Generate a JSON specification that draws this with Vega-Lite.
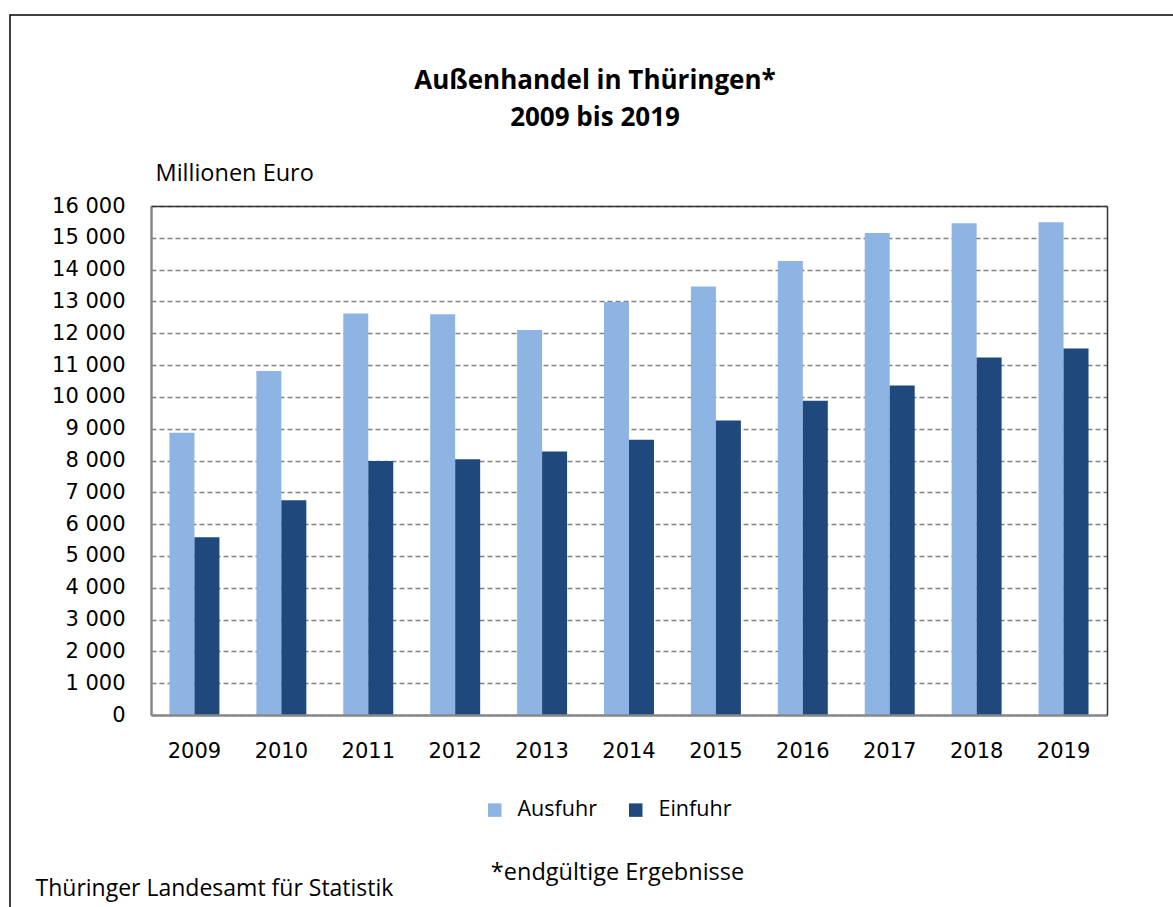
{
  "$schema": "https://vega.github.io/schema/vega-lite/v6.json",
  "width": 1170,
  "height": 900,
  "padding": {"left": 10, "top": 15, "right": 0, "bottom": 0},
  "autosize": {"type": "pad"},
  "background": "white",
  "config": {
    "view": {"stroke": "black", "strokeWidth": 1.5},
    "font": "Open Sans"
  },
  "title": {
    "text": ["Außenhandel in Thüringen*", "2009 bis 2019"],
    "font": "Open Sans",
    "fontSize": 26,
    "fontWeight": "bold",
    "color": "black",
    "anchor": "middle",
    "frame": "group",
    "offset": -116,
    "lineHeight": 37
  },
  "data": {
    "values": [
      {"year": "2009", "type": "Ausfuhr", "value": 8870},
      {"year": "2009", "type": "Einfuhr", "value": 5590},
      {"year": "2010", "type": "Ausfuhr", "value": 10810},
      {"year": "2010", "type": "Einfuhr", "value": 6750},
      {"year": "2011", "type": "Ausfuhr", "value": 12620},
      {"year": "2011", "type": "Einfuhr", "value": 7985},
      {"year": "2012", "type": "Ausfuhr", "value": 12600},
      {"year": "2012", "type": "Einfuhr", "value": 8040},
      {"year": "2013", "type": "Ausfuhr", "value": 12100},
      {"year": "2013", "type": "Einfuhr", "value": 8280},
      {"year": "2014", "type": "Ausfuhr", "value": 12980},
      {"year": "2014", "type": "Einfuhr", "value": 8650},
      {"year": "2015", "type": "Ausfuhr", "value": 13470},
      {"year": "2015", "type": "Einfuhr", "value": 9260},
      {"year": "2016", "type": "Ausfuhr", "value": 14270},
      {"year": "2016", "type": "Einfuhr", "value": 9880},
      {"year": "2017", "type": "Ausfuhr", "value": 15150},
      {"year": "2017", "type": "Einfuhr", "value": 10360},
      {"year": "2018", "type": "Ausfuhr", "value": 15460},
      {"year": "2018", "type": "Einfuhr", "value": 11240},
      {"year": "2019", "type": "Ausfuhr", "value": 15490},
      {"year": "2019", "type": "Einfuhr", "value": 11520}
    ]
  },
  "layer": [
    {
      "mark": {"type": "bar"},
      "encoding": {
        "x": {
          "field": "year",
          "type": "nominal",
          "scale": {"range": [141, 1097], "paddingInner": 0.425, "paddingOuter": 0.2125},
          "axis": {
            "orient": "bottom",
            "offset": -200,
            "zindex": 1,
            "grid": false,
            "ticks": false,
            "tickSize": 0,
            "domainColor": "#888888",
            "domainWidth": 2.5,
            "labelAngle": 0,
            "labelPadding": 25,
            "labelFont": "DejaVu Sans",
            "labelFontSize": 21,
            "labelColor": "black",
            "title": "*endgültige Ergebnisse",
            "titleFont": "Open Sans",
            "titleFontSize": 23.5,
            "titleFontWeight": "normal",
            "titleColor": "black",
            "titleX": 607,
            "titleY": 164,
            "titleAlign": "center",
            "titleBaseline": "alphabetic"
          }
        },
        "xOffset": {"field": "type", "type": "nominal", "sort": ["Ausfuhr", "Einfuhr"]},
        "y": {
          "field": "value",
          "type": "quantitative",
          "scale": {"domain": [0, 16000], "range": [700, 191], "nice": false, "zero": true},
          "axis": {
            "orient": "left",
            "offset": -141,
            "values": [0, 1000, 2000, 3000, 4000, 5000, 6000, 7000, 8000, 9000, 10000, 11000, 12000, 13000, 14000, 15000, 16000],
            "labelExpr": "replace(format(datum.value, ',d'), ',', ' ')",
            "labelFlush": false,
            "labelOverlap": false,
            "ticks": false,
            "tickSize": 0,
            "labelPadding": 26,
            "labelFont": "DejaVu Sans",
            "labelFontSize": 21,
            "labelColor": "black",
            "domainColor": "#888888",
            "domainWidth": 2.5,
            "grid": true,
            "gridColor": "#808080",
            "gridDash": [5, 3],
            "gridWidth": 1.4,
            "title": "Millionen Euro",
            "titleAngle": 0,
            "titleAlign": "left",
            "titleBaseline": "alphabetic",
            "titleX": 4,
            "titleY": 165,
            "titleFont": "Open Sans",
            "titleFontSize": 23.5,
            "titleFontWeight": "normal",
            "titleColor": "black"
          }
        },
        "color": {
          "field": "type",
          "type": "nominal",
          "scale": {"domain": ["Ausfuhr", "Einfuhr"], "range": ["#8DB4E2", "#1F497D"]},
          "legend": {
            "title": null,
            "orient": "none",
            "legendX": 474,
            "legendY": 784,
            "direction": "horizontal",
            "symbolType": "square",
            "symbolSize": 182,
            "symbolStrokeWidth": 0,
            "symbolOpacity": 1,
            "labelFont": "Open Sans",
            "labelFontSize": 21.5,
            "labelColor": "black",
            "labelOffset": 12,
            "columnPadding": 28
          }
        }
      }
    },
    {
      "mark": {"type": "point", "opacity": 0},
      "encoding": {
        "x": {
          "field": "year",
          "type": "nominal",
          "scale": {"range": [141, 1097], "paddingInner": 0.425, "paddingOuter": 0.2125},
          "axis": {
            "orient": "top",
            "offset": -191,
            "zindex": 1,
            "grid": false,
            "labels": false,
            "ticks": false,
            "domainColor": "#333333",
            "domainWidth": 1.5,
            "title": "Thüringer Landesamt für Statistik",
            "titleFont": "Open Sans",
            "titleFontSize": 23,
            "titleFontWeight": "normal",
            "titleColor": "black",
            "titleX": 25,
            "titleY": 689,
            "titleAlign": "left",
            "titleBaseline": "alphabetic"
          }
        },
        "y": {
          "field": "value",
          "type": "quantitative",
          "scale": {"domain": [0, 16000], "range": [700, 191], "nice": false, "zero": true},
          "axis": {
            "orient": "right",
            "offset": -73,
            "zindex": 1,
            "grid": false,
            "labels": false,
            "ticks": false,
            "domainColor": "#333333",
            "domainWidth": 1.5,
            "title": null
          }
        }
      }
    }
  ],
  "resolve": {"axis": {"x": "independent", "y": "independent"}}
}
